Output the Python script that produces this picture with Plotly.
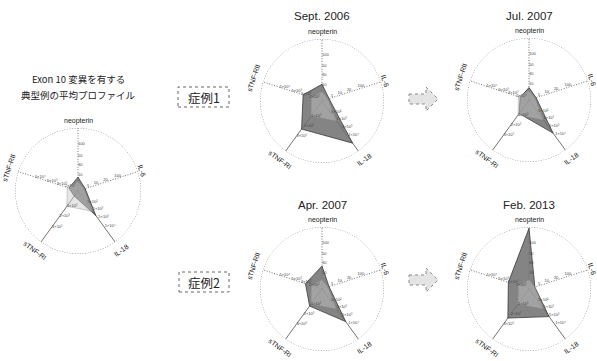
import math
import plotly.graph_objects as go

W, H = 597, 361

# radar axes, clockwise from the top
axis_names = ["neopterin", "IL-6", "IL-18", "sTNF-RI", "sTNF-RII"]
axis_theta = [0, 72, 144, 216, 288]

# normalised scores (fraction of the full radial scale), in axis order
mean_profile = [0.22, 0.12, 0.48, 0.10, 0.15]
case1_sep2006 = [0.27, 0.12, 0.84, 0.56, 0.32]
case1_jul2007 = [0.20, 0.12, 0.66, 0.27, 0.15]
case2_apr2007 = [0.37, 0.12, 0.65, 0.34, 0.28]
case2_feb2013 = [0.98, 0.10, 0.55, 0.58, 0.35]
reference_band = [0.15, 0.10, 0.40, 0.30, 0.18]

# scale marks along each spoke
neopterin_ticks = [0.26, 0.42, 0.56, 0.74]
neopterin_labels = ["10", "30", "50", "100"]
il6_ticks = [0.17, 0.30, 0.46, 0.66]
il6_labels = ["5", "10", "20", "100"]
il18_ticks = [0.25, 0.40, 0.55, 0.72]
il18_labels = ["5×10²", "1×10³", "5×10³", "1×10⁴"]
tnfr1_ticks = [0.30, 0.50, 0.70]
tnfr1_labels = ["1×10³", "2×10³", "3×10³"]
tnfr2_ticks = [0.13, 0.27, 0.43, 0.63]
tnfr2_labels = ["2×10³", "3×10³", "5×10³", "1×10⁴"]

titles = ["", "Sept. 2006", "Jul. 2007", "Apr. 2007", "Feb. 2013"]
profiles = [mean_profile, case1_sep2006, case1_jul2007, case2_apr2007, case2_feb2013]

# panel layout in pixels: centre x, centre y, radius, title y
panel_geom = [
    (78, 191, 63, None),
    (322, 101, 62, 16),
    (529, 100, 62, 16),
    (322, 289, 62, 205),
    (529, 289, 62, 205),
]

LATIN = "Liberation Sans, Arial, sans-serif"
CJK = "Noto Sans CJK JP, sans-serif"


def px(x, y):
    return x / W, 1 - y / H


fig = go.Figure()
annotations = []
shapes = []

tick_sets = [
    (0, neopterin_ticks, neopterin_labels, "middle right"),
    (72, il6_ticks, il6_labels, "top center"),
    (144, il18_ticks, il18_labels, "top right"),
    (216, tnfr1_ticks, tnfr1_labels, "middle right"),
    (288, tnfr2_ticks, tnfr2_labels, "top center"),
]

label_angle = [0, 72, -36, 36, -72]
label_offset = [7, 4, 10, 10, 10]

for i, (vals, title, geom) in enumerate(zip(profiles, titles, panel_geom)):
    cx, cy, rad, ty = geom
    key = "polar" if i == 0 else f"polar{i + 1}"
    x0, y1 = px(cx - rad, cy - rad)
    x1, y0 = px(cx + rad, cy + rad)
    fig.update_layout({
        key: dict(
            domain=dict(x=[x0, x1], y=[y0, y1]),
            bgcolor="rgba(0,0,0,0)",
            radialaxis=dict(visible=False, range=[0, 1]),
            angularaxis=dict(rotation=90, direction="clockwise", showgrid=False,
                             showline=False, showticklabels=False, ticks=""),
        )
    })

    # outer ring
    fig.add_trace(go.Scatterpolar(
        r=[1] * 361, theta=list(range(361)), mode="lines", subplot=key,
        line=dict(color="#5a5a5a", width=0.9, dash="1px,1.6px"), cliponaxis=False,
        hoverinfo="skip"))

    # spokes
    for th, dash in zip(axis_theta, ["1px,1.6px", "1px,1.6px", "solid", "solid", "1px,1.6px"]):
        fig.add_trace(go.Scatterpolar(
            r=[0, 1], theta=[th, th], mode="lines", subplot=key,
            line=dict(color="#505050", width=0.8, dash=dash), cliponaxis=False,
            hoverinfo="skip"))

    # measured profile
    fig.add_trace(go.Scatterpolar(
        r=vals + vals[:1], theta=axis_theta + axis_theta[:1], mode="lines",
        fill="toself", fillcolor="rgba(110,110,110,0.85)", subplot=key,
        line=dict(color="#3a3a3a", width=0.8)))

    # reference band
    fig.add_trace(go.Scatterpolar(
        r=reference_band + reference_band[:1], theta=axis_theta + axis_theta[:1],
        mode="lines", fill="toself", fillcolor="rgba(200,200,200,0.45)", subplot=key,
        line=dict(color="rgba(140,140,140,0.8)", width=0.5)))

    # spoke scale labels
    rr, tt, tx, tp = [], [], [], []
    for th, ticks, labels, pos in tick_sets:
        for r_, lab in zip(ticks, labels):
            rr.append(r_)
            tt.append(th)
            tx.append(lab)
            tp.append(pos)
    fig.add_trace(go.Scatterpolar(
        r=rr, theta=tt, text=tx, textposition=tp, mode="text", subplot=key,
        textfont=dict(size=4, color="#444444", family=LATIN), cliponaxis=False,
        hoverinfo="skip"))

    # axis names around the ring
    for name, th, ang, off in zip(axis_names, axis_theta, label_angle, label_offset):
        phi = math.radians(90 - th)
        lx = cx + (rad + off) * math.cos(phi)
        ly = cy - (rad + off) * math.sin(phi)
        ax_, ay_ = px(lx, ly)
        annotations.append(dict(
            x=ax_, y=ay_, xref="paper", yref="paper", text=name, showarrow=False,
            textangle=ang, xanchor="center", yanchor="middle",
            font=dict(size=7, color="#222222", family=LATIN)))

    if title:
        tx_, ty_ = px(cx, ty)
        annotations.append(dict(
            x=tx_, y=ty_, xref="paper", yref="paper", text=title, showarrow=False,
            xanchor="center", yanchor="middle",
            font=dict(size=11.5, color="#222222", family=LATIN)))

# heading of the average profile
for line, yy in [("Exon 10 変異を有する", 79), ("典型例の平均プロファイル", 95)]:
    hx, hy = px(78, yy)
    annotations.append(dict(
        x=hx, y=hy, xref="paper", yref="paper", text=line, showarrow=False,
        xanchor="center", yanchor="middle",
        font=dict(size=9.5, color="#222222", family=CJK)))

# case boxes
for label, (bx0, by0, bx1, by1) in [("症例1", (178, 87, 229, 107)),
                                    ("症例2", (179, 272, 229, 292))]:
    a, b = px(bx0, by0)
    c, d = px(bx1, by1)
    shapes.append(dict(type="rect", xref="paper", yref="paper", x0=a, y0=d, x1=c, y1=b,
                       line=dict(color="#666666", width=1, dash="dot")))
    mx, my = px((bx0 + bx1) / 2, (by0 + by1) / 2)
    annotations.append(dict(
        x=mx, y=my, xref="paper", yref="paper", text=label, showarrow=False,
        xanchor="center", yanchor="middle",
        font=dict(size=12.5, color="#222222", family=CJK)))

# block arrows between time points
for dy in (0, 181):
    pts = [(409, 94), (426, 94), (426, 87), (438, 99), (426, 111), (426, 104), (409, 104)]
    pts = [px(x, y + dy) for x, y in pts]
    path = "M " + " L ".join(f"{x:.5f},{y:.5f}" for x, y in pts) + " Z"
    shapes.append(dict(type="path", xref="paper", yref="paper", path=path,
                       fillcolor="#e4e4e4", line=dict(color="#8a8a8a", width=1, dash="dot")))

fig.update_layout(
    width=W, height=H, margin=dict(l=0, r=0, t=0, b=0),
    paper_bgcolor="white", plot_bgcolor="white", showlegend=False,
    annotations=annotations, shapes=shapes,
)

fig.write_html("out.html")
